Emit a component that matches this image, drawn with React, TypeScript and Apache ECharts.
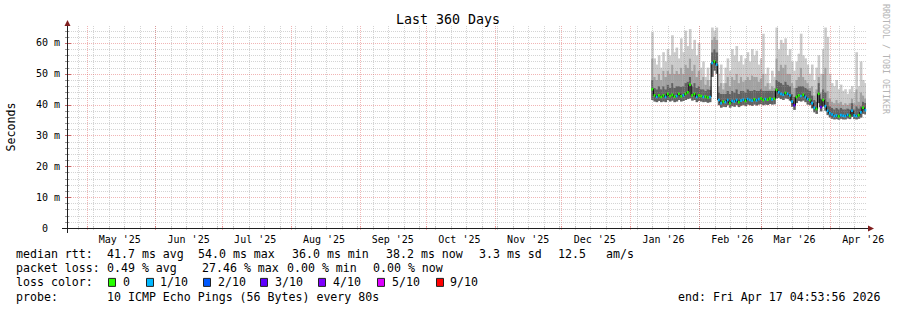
import React, { useEffect, useRef } from 'react';
import * as echarts from 'echarts';

// ---------- time frame ----------
const DAY_MS = 86400000;
const graphStart = Date.UTC(2025, 3, 22, 4, 53, 56);
const graphEnd = Date.UTC(2026, 3, 17, 4, 53, 56);
const spanDays = (graphEnd - graphStart) / DAY_MS;

const monthStarts = ['2025-05-01', '2025-06-01', '2025-07-01', '2025-08-01', '2025-09-01', '2025-10-01', '2025-11-01', '2025-12-01', '2026-01-01', '2026-02-01', '2026-03-01', '2026-04-01'];
const monthLabels = ["May '25", "Jun '25", "Jul '25", "Aug '25", "Sep '25", "Oct '25", "Nov '25", "Dec '25", "Jan '26", "Feb '26", "Mar '26", "Apr '26"];
const firstWeekLine = '2025-04-27';
const yMajorTicks = [10, 20, 30, 40, 50, 60];
const yMinorTicks = [2, 4, 6, 8, 12, 14, 16, 18, 22, 24, 26, 28, 32, 34, 36, 38, 42, 44, 46, 48, 52, 54, 56, 58, 62, 64];
const yLabelTicks = [0, 10, 20, 30, 40, 50, 60];

// ---------- samples (one per day, days after graph start) ----------
const firstSampleDay = 263.7;
const medianMs = [
  45, 43, 42.5, 43, 42.5, 43, 42.5, 43.5, 42.8, 43.2,
  42.6, 42.8, 43.5, 42.7, 43, 43.5, 44, 46.5, 43, 43.5,
  42.5, 43, 42.8, 42.5, 42.6, 42.3, 42.5, 53.5, 54, 53,
  41.5, 40.5, 41, 40.8, 41.5, 40.5, 41.2, 41, 41.5, 40.8,
  41.3, 41.6, 41.2, 41.8, 41.5, 41.3, 41.7, 41.4, 41.8, 42,
  41.5, 41.8, 41.6, 42, 41.7, 41.9, 44.8, 44, 43.5, 43.2,
  43.8, 43.5, 43, 41, 39.8, 42.5, 43, 42.8, 43.2, 42.5,
  41.8, 41.5, 40.5, 39, 38.6, 43.5, 39.2, 41.5, 39.5, 38,
  37.2, 36.8, 36.3, 36.5, 36.2, 36.6, 36.4, 36.3, 36.7, 36.4,
  38, 36.5, 36.3, 36.6, 37.5, 39, 38.2,
];
const lossTenths = [
  0, 0, 1, 0, 0, 0, 1, 0, 0, 0,
  0, 1, 0, 0, 1, 0, 0, 0, 0, 0,
  1, 0, 0, 1, 0, 0, 1, 1, 0, 1,
  1, 1, 0, 1, 1, 0, 1, 1, 1, 0,
  1, 1, 0, 1, 1, 1, 0, 1, 1, 0,
  0, 1, 0, 0, 1, 0, 0, 1, 1, 1,
  0, 1, 1, 1, 3, 0, 0, 1, 0, 1,
  1, 0, 1, 1, 0, 0, 3, 0, 1, 1,
  1, 1, 1, 1, 0, 1, 1, 1, 1, 0,
  1, 1, 1, 0, 1, 0, 1,
];
const smokeLow = [
  41.5, 41, 40.8, 41.2, 40.8, 41, 40.8, 41.5, 41, 41.3,
  40.8, 41, 41.5, 41, 41.2, 41.5, 41.8, 42, 41.3, 41.5,
  40.8, 41.2, 41, 40.8, 40.9, 40.6, 40.8, 49, 51, 50,
  39.8, 39, 39.3, 39.2, 39.8, 39, 39.5, 39.3, 39.8, 39.2,
  39.6, 39.9, 39.5, 40, 39.8, 39.6, 40, 39.7, 40, 40.2,
  39.8, 40, 39.9, 40.2, 40, 40.1, 42, 42.2, 41.8, 41.5,
  42, 41.8, 41.3, 39.3, 38.3, 40.5, 41.2, 41, 41.3, 40.8,
  40, 39.8, 38.8, 37.5, 37, 40.5, 37.8, 39.5, 38, 36.6,
  35.8, 35.4, 35.2, 35.3, 35.1, 35.4, 35.2, 35.2, 35.5, 35.3,
  36, 35.3, 35.2, 35.4, 35.8, 37, 36.8,
];
const smokeDark = [
  48, 45.5, 45, 46, 45, 46, 45, 46.5, 45.5, 47,
  45.5, 46, 46, 45.8, 46, 47, 47.5, 49, 46, 47,
  45.5, 46, 45, 45, 44.5, 45, 44.8, 57, 58, 57,
  44, 43.5, 43.5, 43.5, 44.5, 43.5, 44.5, 44, 45, 43.5,
  44.5, 44.5, 44, 45, 44.5, 44.5, 44.8, 44.5, 44.5, 45,
  44.5, 44.5, 44.5, 44.5, 44.5, 44.5, 48, 47.5, 47, 46.5,
  47.5, 46.5, 46, 43.5, 42.5, 45.5, 46, 46, 46, 45.5,
  45, 44.5, 43, 41.5, 41, 47, 42, 45, 44, 41,
  39.5, 39, 38.5, 39, 38.5, 39, 38.5, 38.5, 38.8, 38.5,
  40.5, 38.5, 39.5, 38.8, 39.5, 41, 40.5,
];
const smokeMid = [
  55, 49, 48, 50, 48, 51, 49, 51, 50, 53,
  50, 51, 50, 52, 50, 53, 52, 55, 51, 53,
  49, 51, 48, 49, 46.5, 48, 46, 61, 62, 61,
  46, 47, 45, 47, 49, 46, 49, 48, 50, 47,
  49, 47.5, 48, 49, 48, 49.5, 49, 49, 47.5, 48.5,
  50, 46, 47, 45, 46, 45.5, 55, 51, 53, 52,
  53, 50, 50, 47, 45.5, 48, 49, 52, 49, 48,
  47, 45.5, 46, 43, 45, 49, 44, 50, 52, 44.5,
  42, 41, 40.5, 41.5, 40.5, 41, 40, 40.5, 40, 40.5,
  42, 40.5, 45, 41, 44, 43, 42,
];
const smokeMax = [
  63.5, 55, 53, 56, 52, 57, 54, 58, 56, 62.5,
  57, 58.5, 55, 61.5, 57, 64, 59, 64.5, 58, 61,
  56, 60, 52, 54, 49, 52, 48, 65, 64, 65,
  50, 53, 47, 52, 55, 51, 58, 56, 59, 54,
  56, 53, 55, 57, 54, 58, 56, 57.5, 53, 55,
  63, 50, 52, 47, 51, 49, 65, 58, 61, 60,
  61.5, 56, 58, 54, 51, 54, 56.5, 63, 56, 55,
  53, 50, 53, 48, 52, 56, 50, 58, 65, 62,
  50, 47, 46, 48, 45, 46.5, 44.5, 45, 43.5, 45,
  46, 44, 57, 46, 54, 48, 47,
];

// ---------- legend texts ----------
const lossLevels = [0, 1, 2, 3, 4, 5, 9];
const lossLevelLabels = ['0', '1/10', '2/10', '3/10', '4/10', '5/10', '9/10'];
const rttStats = ['41.7 ms avg', '54.0 ms max', '36.0 ms min', '38.2 ms now', '3.3 ms sd', '12.5', 'am/s'];
const lossStats = ['0.49 % avg', '27.46 % max', '0.00 % min', '0.00 % now'];
const probeText = '10 ICMP Echo Pings (56 Bytes) every 80s';
const endText = 'end: Fri Apr 17 04:53:56 2026';
const titleText = 'Last 360 Days';

// ---------- styles ----------
const LOSS_COLORS: Record<number, string> = {
  0: '#26ff00', 1: '#00b8ff', 2: '#0059ff', 3: '#5e00ff', 4: '#7e00ff', 5: '#dd00ff', 9: '#ff0000',
};
const SMOKE_LIGHT = '#cbcbcb';
const SMOKE_MID = '#a2a2a2';
const SMOKE_DARK = '#626262';
const GRID_MINOR = 'rgba(143,143,143,0.38)';
const GRID_MAJOR = 'rgba(222,79,79,0.42)';
const AXIS_COLOR = '#1f1f1f';
const ARROW_COLOR = '#801f1f';
const MONO = '"DejaVu Sans Mono", monospace';
const LEGEND_FONT = `11.6px ${MONO}`;

const G_LEFT = 67;
const G_TOP = 26;
const G_W = 799;
const G_H = 202;
const Y_MAX = 65.5;

const toDay = (iso: string) => (Date.parse(iso + 'T00:00:00Z') - graphStart) / DAY_MS;

function buildOption() {
  const monthDays = monthStarts.map(toDay);
  const labelDays = monthDays.map((d) => d + 15);
  const weekDays: number[] = [];
  for (let d = toDay(firstWeekLine); d < spanDays; d += 7) weekDays.push(d);

  const smokeData = medianMs.map((m, i) => [firstSampleDay + i, smokeLow[i], smokeDark[i], smokeMid[i], smokeMax[i], m]);
  const medData = medianMs.map((m, i) => [firstSampleDay + i, m]);
  const lossData = medianMs.map((m, i) => [firstSampleDay + i, m, lossTenths[i]]);

  const vgridData = [...weekDays.map((d) => [d, 0, 0]), ...monthDays.map((d) => [d, 0, 1])];
  const hgridData = [...yMinorTicks.map((v) => [0, v, 0]), ...yMajorTicks.map((v) => [0, v, 1])];

  const text = (t: string, x: number, y: number, extra: any = {}) => ({
    type: 'text', x, y, silent: true,
    style: {
      text: t, font: LEGEND_FONT, fill: '#000',
      align: 'left', verticalAlign: 'middle', textAlign: 'left', textVerticalAlign: 'middle',
      ...extra,
    },
  });

  const rttX = [107, 198, 292, 386, 479, 558, 606];
  const lossX = [107, 202, 287, 373];
  const boxX = [108, 146, 203, 260, 318, 377, 436];
  const boxLabelX = [123, 160, 218, 275, 333, 392, 450];
  const L1 = 254, L2 = 268.3, L3 = 282.4, L4 = 296.6;

  const graphics: any[] = [
    {
      type: 'text', x: 448, y: 19, silent: true,
      style: { text: titleText, font: `13.3px ${MONO}`, fill: '#000', align: 'center', verticalAlign: 'middle', textAlign: 'center', textVerticalAlign: 'middle' },
    },
    {
      type: 'text', x: 11, y: 127, rotation: Math.PI / 2, silent: true,
      style: { text: 'Seconds', font: LEGEND_FONT, fill: '#000', align: 'center', verticalAlign: 'middle', textAlign: 'center', textVerticalAlign: 'middle' },
    },
    {
      type: 'text', x: 886, y: 59, rotation: -Math.PI / 2, silent: true,
      style: { text: 'RRDTOOL / TOBI OETIKER', font: `8.3px ${MONO}`, fill: '#b4b4b4', align: 'center', verticalAlign: 'middle', textAlign: 'center', textVerticalAlign: 'middle' },
    },
    // axes
    { type: 'line', silent: true, z: 10, shape: { x1: G_LEFT - 5, y1: G_TOP + G_H + 0.5, x2: G_LEFT + G_W + 3, y2: G_TOP + G_H + 0.5 }, style: { stroke: AXIS_COLOR, lineWidth: 1 } },
    { type: 'line', silent: true, z: 10, shape: { x1: G_LEFT + 0.5, y1: G_TOP + G_H + 5, x2: G_LEFT + 0.5, y2: G_TOP - 1 }, style: { stroke: AXIS_COLOR, lineWidth: 1 } },
    { type: 'polygon', silent: true, z: 10, shape: { points: [[G_LEFT + G_W + 2, G_TOP + G_H - 2.5], [G_LEFT + G_W + 2, G_TOP + G_H + 3.5], [G_LEFT + G_W + 8, G_TOP + G_H + 0.5]] }, style: { fill: ARROW_COLOR } },
    { type: 'polygon', silent: true, z: 10, shape: { points: [[G_LEFT - 2.5, G_TOP], [G_LEFT + 3.5, G_TOP], [G_LEFT + 0.5, G_TOP - 6]] }, style: { fill: ARROW_COLOR } },
    // legend lines
    text('median rtt:', 16, L1),
    ...rttStats.map((s, i) => text(s, rttX[i], L1)),
    text('packet loss:', 16, L2),
    ...lossStats.map((s, i) => text(s, lossX[i], L2)),
    text('loss color:', 16, L3),
    ...lossLevels.map((lv, i) => ({
      type: 'rect', silent: true,
      shape: { x: boxX[i] + 0.5, y: L3 - 4, width: 7, height: 8 },
      style: { fill: LOSS_COLORS[lv], stroke: '#222', lineWidth: 1 },
    })),
    ...lossLevelLabels.map((s, i) => text(s, boxLabelX[i], L3)),
    text('probe:', 16, L4),
    text(probeText, 107, L4),
    text(endText, 678, L4),
  ];

  return {
    animation: false,
    backgroundColor: '#ffffff',
    grid: { left: G_LEFT, top: G_TOP, width: G_W, height: G_H, containLabel: false },
    xAxis: {
      type: 'value', min: 0, max: spanDays,
      axisLine: { show: false }, axisTick: { show: false }, splitLine: { show: false },
      axisLabel: {
        customValues: labelDays,
        formatter: (v: number) => {
          const idx = labelDays.findIndex((d) => Math.abs(d - v) < 0.01);
          return idx >= 0 ? monthLabels[idx] : '';
        },
        fontFamily: MONO, fontSize: 10, color: '#000', margin: 6,
      },
    },
    yAxis: {
      type: 'value', min: 0, max: Y_MAX,
      axisLine: { show: false }, axisTick: { show: false }, splitLine: { show: false },
      axisLabel: {
        customValues: yLabelTicks,
        formatter: (v: number) => (v === 0 ? '{z|0}' : `${v} m`),
        rich: { z: { fontFamily: MONO, fontSize: 10, color: '#000', padding: [0, 12, 0, 0] } },
        fontFamily: MONO, fontSize: 10, color: '#000', margin: 7,
      },
    },
    series: [
      {
        type: 'custom', name: 'smoke', z: 1, silent: true, clip: true,
        data: smokeData,
        encode: { x: 0, y: [1, 4] },
        renderItem: (params: any, api: any) => {
          const d = api.value(0);
          const xl = api.coord([d - 0.5, 0])[0];
          const xr = api.coord([d + 0.5, 0])[0];
          const w = xr - xl + 0.4;
          const y = (v: number) => api.coord([d, v])[1];
          const yLo = y(api.value(1)), yDk = y(api.value(2)), yMd = y(api.value(3)), yMx = y(api.value(4));
          return {
            type: 'group',
            children: [
              { type: 'rect', shape: { x: xl, y: yMx, width: w, height: yMd - yMx }, style: { fill: SMOKE_LIGHT } },
              { type: 'rect', shape: { x: xl, y: yMd, width: w, height: yDk - yMd }, style: { fill: SMOKE_MID } },
              { type: 'rect', shape: { x: xl, y: yDk, width: w, height: yLo - yDk }, style: { fill: SMOKE_DARK } },
            ],
          };
        },
      },
      {
        type: 'custom', name: 'vgrid', z: 2, silent: true,
        data: vgridData,
        encode: { x: 0, y: 1 },
        renderItem: (params: any, api: any) => {
          const cs = params.coordSys;
          const x = Math.round(api.coord([api.value(0), 0])[0]) + 0.5;
          const major = api.value(2) === 1;
          const stroke = major ? GRID_MAJOR : GRID_MINOR;
          const bottom = cs.y + cs.height;
          return {
            type: 'group',
            children: [
              { type: 'line', shape: { x1: x, y1: cs.y, x2: x, y2: bottom }, style: { stroke, lineWidth: 1, lineDash: [1, 1] } },
              { type: 'line', shape: { x1: x, y1: bottom - 2, x2: x, y2: bottom + 2 }, style: { stroke, lineWidth: 1 } },
            ],
          };
        },
      },
      {
        type: 'custom', name: 'hgrid', z: 2, silent: true,
        data: hgridData,
        encode: { x: 0, y: 1 },
        renderItem: (params: any, api: any) => {
          const cs = params.coordSys;
          const y = Math.round(api.coord([0, api.value(1)])[1]) + 0.5;
          const major = api.value(2) === 1;
          const stroke = major ? GRID_MAJOR : GRID_MINOR;
          return {
            type: 'group',
            children: [
              { type: 'line', shape: { x1: cs.x, y1: y, x2: cs.x + cs.width, y2: y }, style: { stroke, lineWidth: 1, lineDash: [1, 1] } },
              { type: 'line', shape: { x1: cs.x - 2, y1: y, x2: cs.x + (major ? 4 : 2), y2: y }, style: { stroke: major ? '#c86a6a' : '#999999', lineWidth: 1 } },
            ],
          };
        },
      },
      {
        type: 'line', name: 'median', z: 3, silent: true,
        data: medData, step: 'middle', symbol: 'none', showSymbol: false,
        lineStyle: { color: '#000000', width: 1 },
      },
      {
        type: 'custom', name: 'loss', z: 4, silent: true,
        data: lossData,
        encode: { x: 0, y: 1 },
        renderItem: (params: any, api: any) => {
          const d = api.value(0);
          const xl = api.coord([d - 0.5, 0])[0];
          const xr = api.coord([d + 0.5, 0])[0];
          const yc = api.coord([d, api.value(1)])[1];
          return {
            type: 'rect',
            shape: { x: xl + 0.2, y: yc - 1.3, width: xr - xl - 0.4, height: 2.6 },
            style: { fill: LOSS_COLORS[api.value(2)] || '#26ff00' },
          };
        },
      },
    ],
    graphic: { elements: graphics },
  };
}

export default function App() {
  const ref = useRef<HTMLDivElement>(null);
  useEffect(() => {
    if (!ref.current) return;
    const chart = echarts.init(ref.current, null, { renderer: 'svg' });
    chart.setOption(buildOption() as any);
    return () => chart.dispose();
  }, []);
  return (
    <div
      ref={ref}
      style={{ position: 'absolute', left: 0, top: 0, width: 897, height: 310, background: '#fff' }}
    />
  );
}
